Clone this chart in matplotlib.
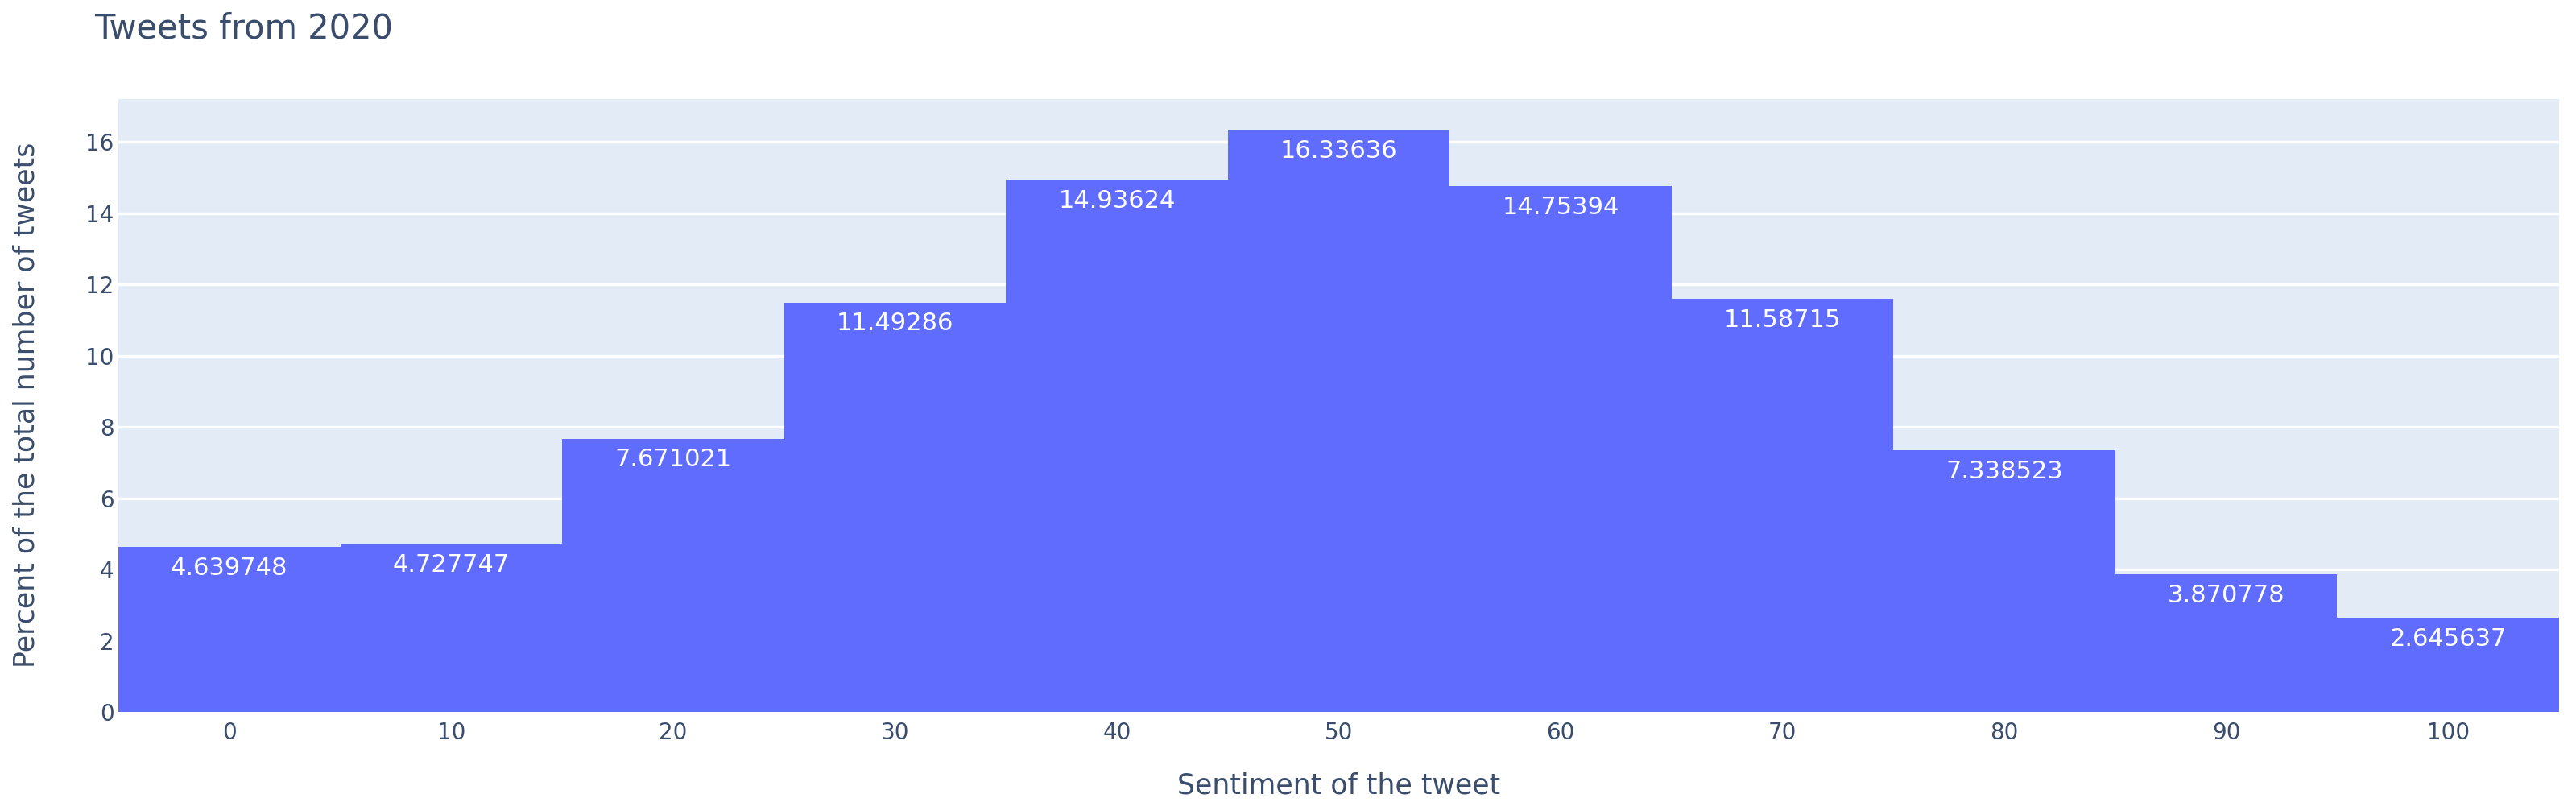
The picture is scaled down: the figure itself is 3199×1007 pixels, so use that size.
import numpy as np
import matplotlib.pyplot as plt

# sentiment bins and share of tweets in each
sentiment = [0, 10, 20, 30, 40, 50, 60, 70, 80, 90, 100]
percent = [4.639748, 4.727747, 7.671021, 11.49286, 14.93624, 16.33636,
           14.75394, 11.58715, 7.338523, 3.870778, 2.645637]
labels = ['4.639748', '4.727747', '7.671021', '11.49286', '14.93624', '16.33636',
          '14.75394', '11.58715', '7.338523', '3.870778', '2.645637']

plt.rcParams['font.family'] = ['DejaVu Sans']
text_col = '#3a4d6c'

fig = plt.figure(figsize=(31.99, 10.07), dpi=100)
ax = fig.add_axes([147 / 3199, 1 - 884 / 1007, (3178 - 147) / 3199, (884 - 123) / 1007])
ax.set_facecolor('#e3ebf6')

bars = ax.bar(sentiment, percent, width=10, color='#5f6cfe', zorder=2)
for x, y, lab in zip(sentiment, percent, labels):
    ax.annotate(lab, (x, y), xytext=(0, -19), textcoords='offset points',
                ha='center', va='center', color='white', fontsize=22, zorder=3)

ax.set_xlim(-5, 105)
ax.set_ylim(0, 17.2)
ax.set_xticks(sentiment)
ax.set_yticks(np.arange(0, 17, 2))
ax.grid(axis='y', color='white', linewidth=2.5, zorder=1)
ax.set_axisbelow(True)
for s in ax.spines.values():
    s.set_visible(False)
ax.tick_params(length=0, labelsize=20, colors=text_col)
ax.tick_params(axis='x', pad=9)
ax.tick_params(axis='y', pad=4)

fig.text(33 / 3199, 1 - 503 / 1007, 'Percent of the total number of tweets', rotation=90,
         ha='center', va='center', fontsize=25, color=text_col)
fig.text((147 + 3178) / 2 / 3199, 1 - 975 / 1007, 'Sentiment of the tweet',
         ha='center', va='center', fontsize=25, color=text_col)
fig.text(117 / 3199, 1 - 35 / 1007, 'Tweets from 2020', ha='left', va='center',
         fontsize=30, color=text_col)

fig.savefig('out.png', dpi=100, facecolor='white')
